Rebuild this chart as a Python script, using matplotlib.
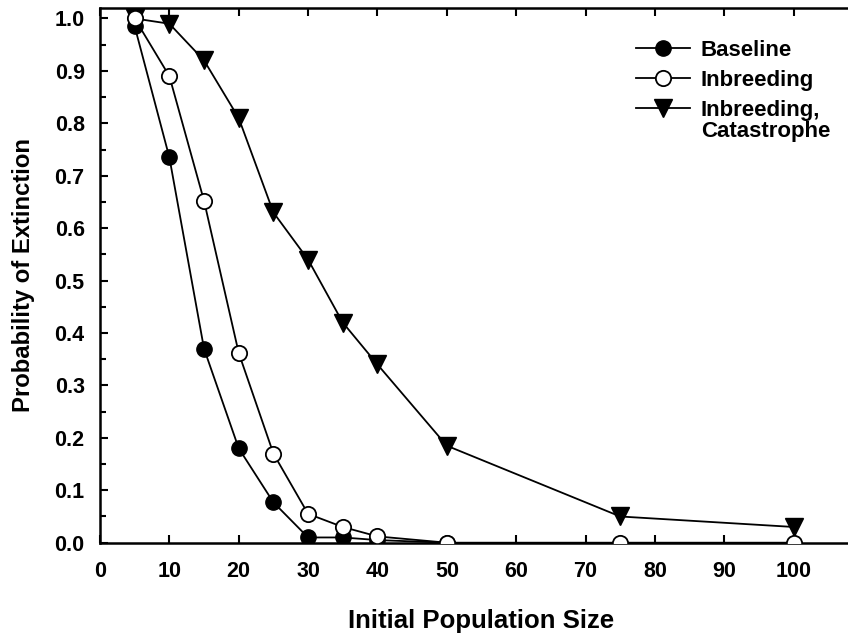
import matplotlib
matplotlib.use("Agg")
import matplotlib.pyplot as plt
from matplotlib.ticker import MultipleLocator

plt.rcParams['font.family'] = ['Liberation Sans', 'DejaVu Sans']
plt.rcParams['font.weight'] = 'bold'

x_base = [5, 10, 15, 20, 25, 30, 35, 40, 50]
y_base = [0.985, 0.735, 0.37, 0.18, 0.077, 0.01, 0.01, 0.005, 0.0]

x_inb = [5, 10, 15, 20, 25, 30, 35, 40, 50, 75, 100]
y_inb = [1.0, 0.89, 0.652, 0.362, 0.17, 0.055, 0.03, 0.012, 0.0, 0.0, 0.0]

x_cat = [5, 10, 15, 20, 25, 30, 35, 40, 50, 75, 100]
y_cat = [1.0, 0.99, 0.92, 0.81, 0.63, 0.54, 0.42, 0.34, 0.185, 0.05, 0.03]

labels = ["Baseline", "Inbreeding", "Inbreeding,\nCatastrophe"]
xticks = list(range(0, 101, 10))
yticks = [round(0.1 * i, 1) for i in range(11)]

fig = plt.figure(figsize=(8.48, 6.37), dpi=100)
ax = fig.add_axes([100 / 848, 94.3 / 637, 763 / 848, 534.7 / 637])

lw = 1.3
ax.plot(x_cat, y_cat, color='black', lw=lw, marker='v', ms=12.5, mfc='black', mec='black', label=labels[2], zorder=3)
ax.plot(x_base, y_base, color='black', lw=lw, marker='o', ms=11, mfc='black', mec='black', label=labels[0], zorder=4)
ax.plot(x_inb, y_inb, color='black', lw=lw, marker='o', ms=11, mfc='white', mec='black', mew=1.3, label=labels[1], zorder=5)

ax.set_xlim(0, 110)
ax.set_ylim(0, 1.02)
ax.set_xticks(xticks)
ax.set_xticklabels([str(t) for t in xticks])
ax.set_yticks(yticks)
ax.set_yticklabels([f"{t:.1f}" for t in yticks])
ax.yaxis.set_minor_locator(MultipleLocator(0.05))

ax.tick_params(axis='x', which='major', direction='in', length=6, width=1.5, top=True, bottom=True, labelsize=15.5, pad=13)
ax.tick_params(axis='y', which='major', direction='in', length=6, width=1.5, left=True, right=False, labelsize=15.5, pad=11)
ax.tick_params(axis='y', which='minor', direction='in', length=4, width=1.5, left=True, right=False)

for s in ['left', 'bottom', 'top']:
    ax.spines[s].set_linewidth(1.8)
ax.spines['right'].set_visible(False)

ax.set_xlabel("Initial Population Size", fontsize=18.5, fontweight='bold', labelpad=19.5)
ax.set_ylabel("Probability of Extinction", fontsize=17.2, fontweight='bold', labelpad=14)

h, l = ax.get_legend_handles_labels()
order = [1, 2, 0]
leg = ax.legend([h[i] for i in order], [l[i] for i in order], loc='upper left',
                bbox_to_anchor=(0.703, 0.941), frameon=False, fontsize=16,
                borderpad=0, borderaxespad=0,
                handlelength=2.4, handletextpad=0.5, labelspacing=0.41, markerscale=1.0)
for t in leg.get_texts():
    t.set_linespacing(1.0)
rows = leg._legend_handle_box.get_children()[0].get_children()
rows[-1].align = 'top'

fig.savefig("out.png", dpi=100)
